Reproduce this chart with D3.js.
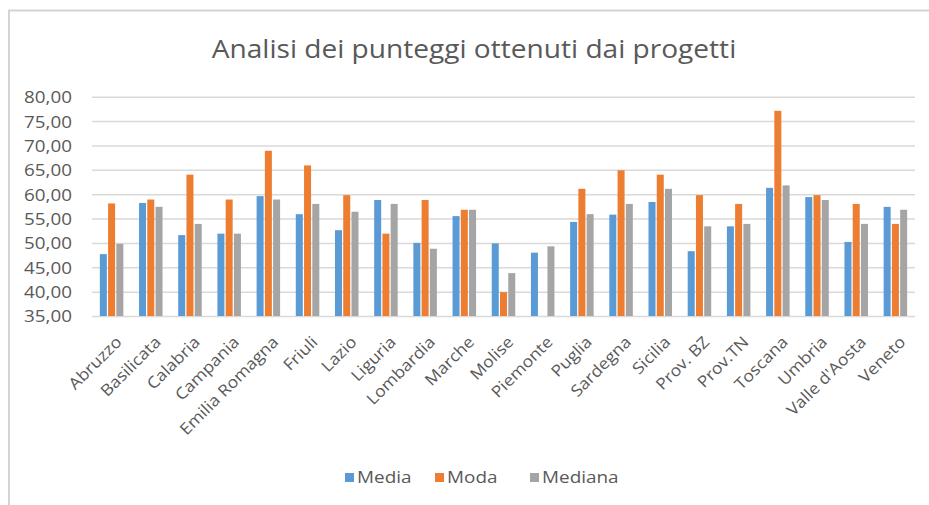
<!DOCTYPE html>
<html>
<head>
<meta charset="utf-8">
<script src="https://cdn.jsdelivr.net/npm/d3@7/dist/d3.min.js"></script>
<style>
  html, body { margin: 0; padding: 0; background: #fff; }
  svg { display: block; font-family: "Open Sans", "DejaVu Sans", sans-serif; }
</style>
</head>
<body>
<svg id="chart" width="929" height="505"></svg>
<script>
// Regions and the three statistics of project scores
const regioni = ["Abruzzo", "Basilicata", "Calabria", "Campania", "Emilia Romagna", "Friuli",
  "Lazio", "Liguria", "Lombardia", "Marche", "Molise", "Piemonte", "Puglia", "Sardegna",
  "Sicilia", "Prov. BZ", "Prov.TN", "Toscana", "Umbria", "Valle d'Aosta", "Veneto"];

const media = [47.7, 58.2, 51.6, 51.9, 59.6, 55.9, 52.6, 58.8, 50.0, 55.5, 49.9,
  48.0, 54.3, 55.8, 58.4, 48.3, 53.4, 61.3, 59.4, 50.2, 57.4];
const moda = [58.1, 58.9, 64.0, 58.9, 68.9, 65.9, 59.8, 51.9, 58.8, 56.8, 39.9,
  null, 61.1, 64.9, 64.0, 59.8, 58.0, 77.1, 59.8, 58.0, 53.9];
const mediana = [49.8, 57.4, 53.9, 51.9, 58.9, 58.0, 56.4, 58.0, 48.8, 56.8, 43.8,
  49.3, 55.9, 58.0, 61.1, 53.4, 53.9, 61.8, 58.8, 53.9, 56.8];

const serieNomi = ["Media", "Moda", "Mediana"];
const serieValori = [media, moda, mediana];
const colori = ["#5B9BD5", "#ED7D31", "#A5A5A5"];
const yTicks = [35, 40, 45, 50, 55, 60, 65, 70, 75, 80];

const titolo = "Analisi dei punteggi ottenuti dai progetti";
const fmt = v => d3.format(".2f")(v).replace(".", ",");

const svg = d3.select("#chart");
const textColor = "#595959";
const gridColor = "#D9D9D9";

// widen horizontal glyph runs a little
function stretch(sel, k) {
  sel.each(function () {
    const w = this.getComputedTextLength();
    d3.select(this).attr("textLength", w * k).attr("lengthAdjust", "spacingAndGlyphs");
  });
}

// chart frame
svg.append("rect")
  .attr("x", 9).attr("y", 10.5)
  .attr("width", 960).attr("height", 560)
  .attr("fill", "#fff")
  .attr("stroke", "#D4D4D4").attr("stroke-width", 2);

const plot = { left: 92, right: 915, top: 96.7, bottom: 316 };

const x0 = d3.scaleBand()
  .domain(regioni)
  .range([plot.left, plot.right])
  .paddingInner(0.4)
  .paddingOuter(0.2);

const x1 = d3.scaleBand()
  .domain(serieNomi)
  .range([0, x0.bandwidth()])
  .paddingInner(0.15);

const y = d3.scaleLinear()
  .domain([35, 80])
  .range([plot.bottom, plot.top]);

// title
const t = svg.append("text")
  .attr("x", 474).attr("y", 58)
  .attr("text-anchor", "middle")
  .attr("font-size", 26)
  .attr("fill", textColor)
  .text(titolo);
stretch(t, 1.08);

// gridlines and value axis
const yAxis = d3.axisLeft(y)
  .tickValues(yTicks)
  .tickSize(-(plot.right - plot.left))
  .tickPadding(20)
  .tickFormat(fmt);

const gy = svg.append("g")
  .attr("transform", `translate(${plot.left},0)`)
  .call(yAxis);
gy.select(".domain").remove();
gy.selectAll(".tick line").attr("stroke", gridColor).attr("stroke-width", 1.5);
gy.selectAll(".tick text")
  .attr("fill", textColor)
  .attr("font-size", 16.5)
  .attr("font-family", "'Open Sans', sans-serif")
  .attr("dy", "0.36em");
stretch(gy.selectAll(".tick text"), 1.14);

// bars
const gruppi = svg.append("g")
  .selectAll("g")
  .data(regioni)
  .join("g")
  .attr("transform", d => `translate(${x0(d)},0)`);

gruppi.selectAll("rect")
  .data((d, i) => serieNomi.map((s, k) => ({ serie: s, k, v: serieValori[k][i] })))
  .join("rect")
  .filter(d => d.v != null && d.v > 35)
  .attr("x", d => x1(d.serie))
  .attr("width", x1.bandwidth())
  .attr("y", d => y(d.v))
  .attr("height", d => y(35) - y(d.v))
  .attr("fill", d => colori[d.k]);

// category axis
const xAxis = d3.axisBottom(x0).tickSize(0).tickPadding(0);
const gx = svg.append("g")
  .attr("transform", `translate(0,${plot.bottom})`)
  .call(xAxis);
gx.select(".domain").remove();
gx.selectAll(".tick text")
  .attr("fill", textColor)
  .attr("font-size", 16)
  .attr("font-family", "'Open Sans', sans-serif")
  .attr("text-anchor", "end")
  .attr("dy", "0.71em")
  .attr("transform", "translate(3,19) rotate(-45)");
stretch(gx.selectAll(".tick text"), 1.1);

// legend
const legendX = [345, 435, 530];
const leg = svg.append("g")
  .selectAll("g")
  .data(serieNomi)
  .join("g")
  .attr("transform", (d, i) => `translate(${legendX[i]},473)`);
leg.append("rect")
  .attr("width", 9).attr("height", 9)
  .attr("fill", (d, i) => colori[i]);
const lt = leg.append("text")
  .attr("x", 12).attr("y", 9.5)
  .attr("font-size", 15.5)
  .attr("fill", textColor)
  .text(d => d);
stretch(lt, 1.22);
</script>
</body>
</html>
